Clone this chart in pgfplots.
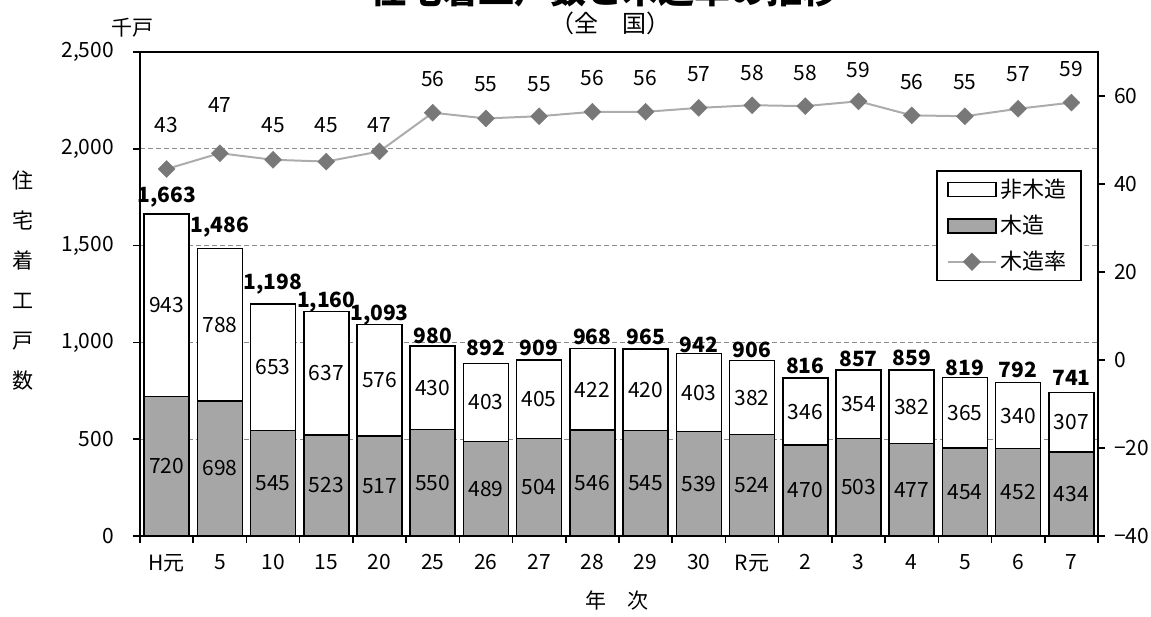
\documentclass[border=0pt]{standalone}
\usepackage{fontspec}
\setmainfont{Noto Sans CJK JP}
\usepackage{pgfplots}
\usepackage{pgfplotstable}
\pgfplotsset{compat=1.18}

\definecolor{woodgray}{RGB}{166,166,166}
\definecolor{rateline}{RGB}{172,172,172}
\definecolor{ratemark}{RGB}{120,120,120}
\definecolor{gridgray}{RGB}{140,140,140}

% x: category index, wood/non/total in 1000 units, tl: total label height,
% rate: wood ratio (%), rp: printed ratio, rl: ratio label height
\pgfplotstableread{
x wood non total tl rate rp rl
0 720 943 1663 1751 43.4 43 53.4
1 698 788 1486 1596 47.0 47 58.0
2 545 653 1198 1302 45.5 45 53.4
3 523 637 1160 1209 45.1 45 53.4
4 517 576 1093 1141 47.4 47 53.4
5 550 430 980 1033 56.2 56 63.9
6 489 403 892 974 54.9 55 62.7
7 504 405 909 971 55.4 55 62.7
8 546 422 968 1028 56.4 56 64.2
9 545 420 965 1028 56.4 56 64.2
10 539 403 942 987 57.3 57 65.0
11 524 382 906 961 57.9 58 65.3
12 470 346 816 878 57.7 58 65.2
13 503 354 857 914 58.8 59 66.0
14 477 382 859 922 55.6 56 63.2
15 454 365 819 868 55.4 55 63.2
16 452 340 792 857 57.1 57 64.9
17 434 307 741 819 58.5 59 66.1
}\data

\newcommand{\lblfont}{\fontsize{10.5}{12}\selectfont}

\begin{document}
\begin{tikzpicture}
\begin{axis}[
  name=main,
  clip mode=individual,
  width=479pt, height=242pt, scale only axis,
  xmin=-0.5, xmax=17.5, ymin=0, ymax=2500,
  xtick={0,...,17},
  xticklabels={H元,5,10,15,20,25,26,27,28,29,30,R元,2,3,4,5,6,7},
  minor xtick={-0.5,0.5,...,17.5},
  ytick={0,500,...,2500},
  tick pos=left, tick align=outside,
  major tick length=3.5pt, minor tick length=3.5pt,
  tick style={black, line width=0.8pt},
  major x tick style={draw=none},
  ymajorgrids,
  major grid style={gridgray, dash pattern=on 2.5pt off 1.5pt, line width=0.5pt},
  axis line style={line width=0.9pt},
  /pgf/number format/1000 sep={,},
  /pgf/number format/assume math mode=true,
  every tick label/.append style={font=\lblfont},
  xticklabel style={yshift=-2pt},
  yticklabel style={xshift=-6pt},
  xlabel={年　次},
  ylabel={住\\宅\\着\\工\\戸\\数},
  every axis x label/.style={at={(axis description cs:0.498,-0.134)}, anchor=center, font=\lblfont},
  every axis y label/.style={at={(axis description cs:-0.122,0.527)}, anchor=center, align=center, font=\fontsize{10.5}{20}\selectfont},
  legend cell align=left,
  legend style={at={(axis description cs:0.983,0.756)}, anchor=north east,
    draw=black, line width=0.8pt, fill=white, font=\fontsize{11}{13}\selectfont,
    row sep=3.3pt, inner xsep=5pt, inner ysep=2pt},
]
\addplot[forget plot, ybar, bar width=22.5pt, bar shift=0pt, fill=white, draw=black, line width=0.8pt]
  table[x=x, y=total]{\data};
\addplot[forget plot, ybar, bar width=22.5pt, bar shift=0pt, fill=woodgray, draw=black, line width=0.8pt]
  table[x=x, y=wood]{\data};

\addplot[forget plot, draw=none, mark=none, nodes near coords, nodes near coords align=center,
  point meta=\thisrow{wood}, every node near coord/.style={font=\lblfont, black}]
  table[x=x, y expr=\thisrow{wood}/2]{\data};
\addplot[forget plot, draw=none, mark=none, nodes near coords, nodes near coords align=center,
  point meta=\thisrow{non}, every node near coord/.style={font=\lblfont, black}]
  table[x=x, y expr=\thisrow{wood}+\thisrow{non}/2]{\data};
\addplot[forget plot, draw=none, mark=none, nodes near coords, nodes near coords align=center,
  point meta=\thisrow{total}, every node near coord/.style={font=\lblfont\bfseries, black}]
  table[x=x, y=tl]{\data};

\addlegendimage{legend image code/.code={\draw[fill=white, draw=black, line width=0.8pt] (0pt,-3.5pt) rectangle (24pt,3.5pt);}}
\addlegendentry{非木造}
\addlegendimage{legend image code/.code={\draw[fill=woodgray, draw=black, line width=0.8pt] (0pt,-3.5pt) rectangle (24pt,3.5pt);}}
\addlegendentry{木造}
\addlegendimage{legend image code/.code={\draw[rateline, line width=1pt] (0pt,0pt) -- (24pt,0pt);
  \fill[ratemark, rotate around={45:(12pt,0pt)}] (9.2pt,-2.8pt) rectangle (14.8pt,2.8pt);}}
\addlegendentry{木造率}

\node[anchor=south, inner sep=0pt, font=\fontsize{18}{20}\selectfont\bfseries]
  at (axis description cs:0.485,1.091) {住宅着工戸数と木造率の推移};
\node[anchor=center, inner sep=0pt, font=\fontsize{12}{14}\selectfont]
  at (axis description cs:0.491,1.06) {（全　国）};
\node[anchor=center, inner sep=0pt, font=\lblfont]
  at (axis description cs:-0.008,1.05) {千戸};
\end{axis}

\begin{axis}[
  width=479pt, height=242pt, scale only axis,
  xmin=-0.5, xmax=17.5, ymin=-40, ymax=70,
  axis x line=none, axis y line*=right,
  ytick={-40,-20,...,60},
  yticklabels={−40,−20,0,20,40,60},
  tick align=outside, major tick length=3.5pt,
  tick style={black, line width=0.8pt},
  axis line style={line width=0.9pt},
  /pgf/number format/assume math mode=true,
  every tick label/.append style={font=\lblfont},
  yticklabel style={xshift=1pt},
]
\addplot[rateline, line width=1pt, mark=square*, mark size=3pt,
  mark options={fill=ratemark, draw=ratemark, line width=0.2pt, rotate=45}]
  table[x=x, y=rate]{\data};
\addplot[draw=none, mark=none, nodes near coords, nodes near coords align=center,
  point meta=\thisrow{rp}, every node near coord/.style={font=\lblfont, black}]
  table[x=x, y=rl]{\data};
\end{axis}

\pgfresetboundingbox
\path[use as bounding box] ([shift={(-70pt,-40pt)}]main.south west) rectangle ([shift={(505.5pt,268pt)}]main.south west);
\end{tikzpicture}
\end{document}
